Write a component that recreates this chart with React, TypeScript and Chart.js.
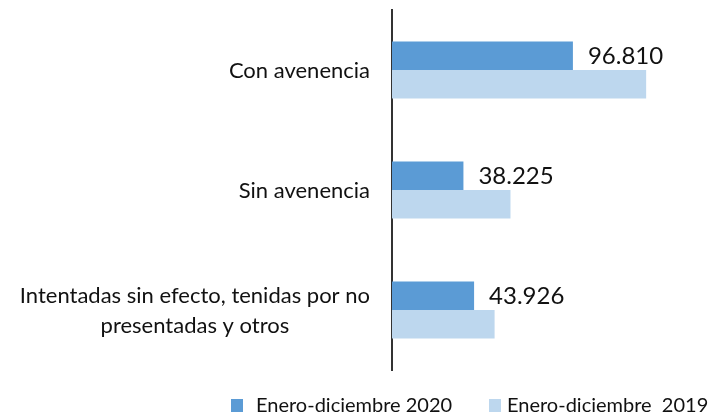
import React, { useEffect, useRef } from "react";
import { Chart, registerables } from "chart.js";

Chart.register(...registerables);

const categories: (string | string[])[] = [
  "Con avenencia",
  "Sin avenencia",
  ["Intentadas sin efecto, tenidas por no", "presentadas y otros"],
];
const seriesLabels = ["Enero-diciembre 2020", "Enero-diciembre  2019"];
const values2020 = [96810, 38225, 43926];
const values2019 = [136000, 63400, 54900];
const seriesColors = ["#5B9BD5", "#BDD7EE"];
const xMax = 160000;

const FONT = "Lato, 'Open Sans', sans-serif";

function fmt(v: number): string {
  return String(Math.round(v)).replace(/\B(?=(\d{3})+(?!\d))/g, ".");
}

const overlay = {
  id: "overlay",
  afterDraw(chart: any) {
    const ctx = chart.ctx as CanvasRenderingContext2D;
    const area = chart.chartArea;
    const yScale = chart.scales.y;
    ctx.save();
    ctx.fillStyle = "#111";
    ctx.textBaseline = "middle";

    // category labels: block right-aligned, lines centered within block
    ctx.font = `22px ${FONT}`;
    ctx.textAlign = "center";
    const lineH = 30;
    (chart.data.labels as any[]).forEach((lab, i) => {
      const lines: string[] = Array.isArray(lab) ? lab : [lab];
      const maxW = Math.max(...lines.map((l) => ctx.measureText(l).width));
      const cx = area.left - 22 - maxW / 2;
      const cy = yScale.getPixelForValue(i);
      lines.forEach((l, j) => {
        ctx.fillText(l, cx, cy + (j - (lines.length - 1) / 2) * lineH + 1);
      });
    });

    // value labels on the 2020 bars
    const meta = chart.getDatasetMeta(0);
    ctx.font = `24px ${FONT}`;
    ctx.textAlign = "left";
    meta.data.forEach((bar: any, i: number) => {
      ctx.fillText(fmt(chart.data.datasets[0].data[i]), bar.x + 15, bar.y + 1);
    });

    // legend
    ctx.font = `20px ${FONT}`;
    const boxX = [231, 489];
    const textOff = [25, 18];
    chart.data.datasets.forEach((ds: any, i: number) => {
      ctx.fillStyle = ds.backgroundColor;
      ctx.fillRect(boxX[i], 399, 12, 13);
      ctx.fillStyle = "#111";
      ctx.fillText(ds.label, boxX[i] + textOff[i], 406);
    });
    ctx.restore();
  },
};

export default function App() {
  const ref = useRef<HTMLCanvasElement | null>(null);
  useEffect(() => {
    if (!ref.current) return;
    const chart = new Chart(ref.current, {
      type: "bar",
      data: {
        labels: categories as any,
        datasets: [
          {
            label: seriesLabels[0],
            data: values2020,
            backgroundColor: seriesColors[0],
            borderWidth: 0,
            categoryPercentage: 0.475,
            barPercentage: 1,
          },
          {
            label: seriesLabels[1],
            data: values2019,
            backgroundColor: seriesColors[1],
            borderWidth: 0,
            categoryPercentage: 0.475,
            barPercentage: 1,
          },
        ],
      },
      options: {
        indexAxis: "y",
        responsive: false,
        animation: false,
        layout: { padding: { left: 392, right: 21, top: 10, bottom: 46 } },
        plugins: {
          legend: { display: false },
          tooltip: { enabled: false },
        },
        scales: {
          x: { display: false, min: 0, max: xMax },
          y: {
            display: true,
            grid: { display: false, drawTicks: false },
            ticks: { display: false },
            border: { display: true, color: "#333333", width: 2 },
          },
        },
      },
      plugins: [overlay],
    });
    return () => chart.destroy();
  }, []);
  return (
    <div style={{ position: "absolute", left: 0, top: 0, width: 712, height: 416, background: "#fff" }}>
      <canvas ref={ref} width={712} height={416} style={{ display: "block" }} />
    </div>
  );
}
